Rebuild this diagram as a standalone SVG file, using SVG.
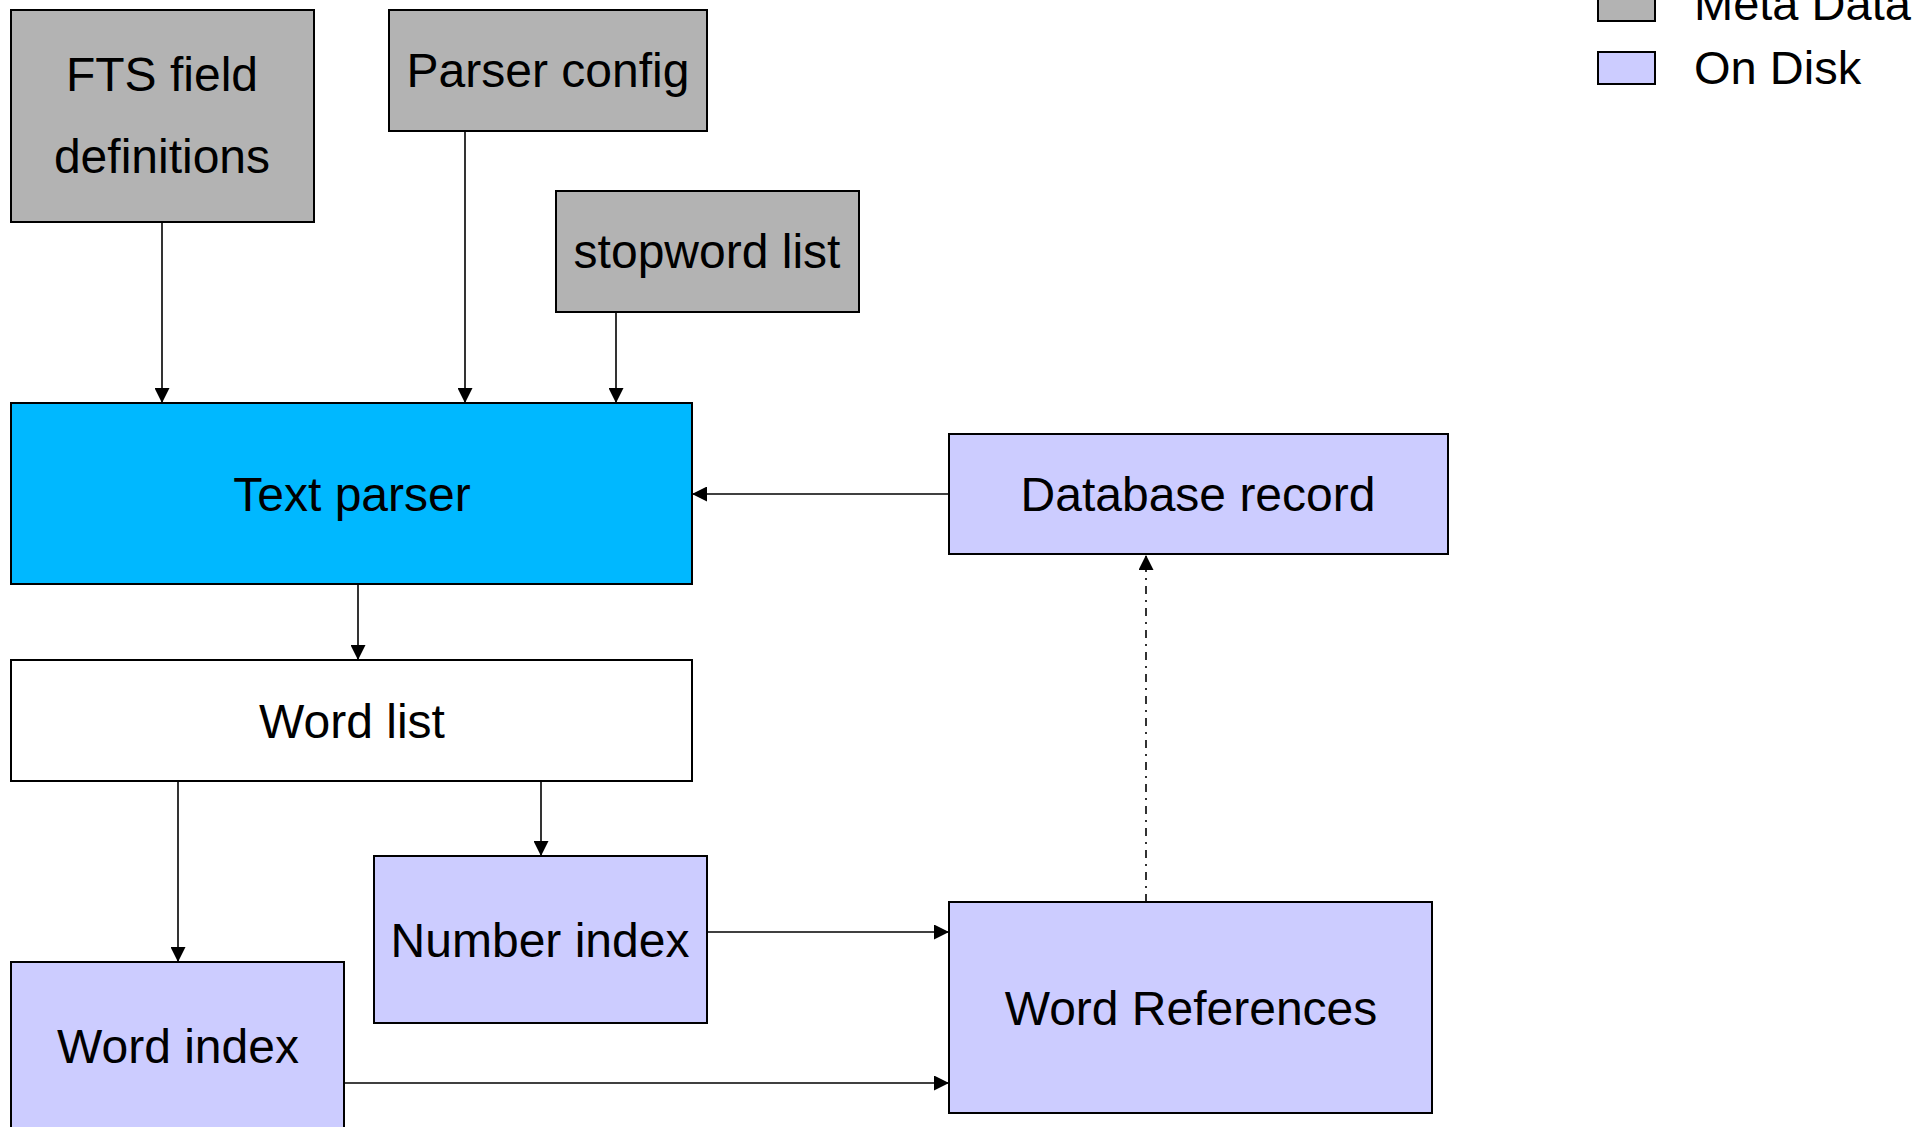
<svg xmlns="http://www.w3.org/2000/svg" width="1932" height="1127" viewBox="0 0 1932 1127">
  <style>
    .box { stroke: #000; stroke-width: 2; }
    .meta { fill: #b3b3b3; }
    .disk { fill: #ccccff; }
    .proc { fill: #00b8ff; }
    .plain { fill: #ffffff; }
    .label { font-family: "Liberation Sans", Arial, sans-serif; font-size: 48px; fill: #000; text-anchor: middle; }
    .legend { font-family: "Liberation Sans", Arial, sans-serif; font-size: 47px; fill: #000; }
    .edge { fill: none; stroke: #000; stroke-width: 1.6; }
    .dashdot { stroke-dasharray: 8 6 2 6; }
  </style>
  <defs>
    <marker id="arrow" markerUnits="userSpaceOnUse" markerWidth="15" markerHeight="15" refX="15" refY="7.5" orient="auto">
      <path d="M0,0 L15,7.5 L0,15 z" fill="#000"/>
    </marker>
  </defs>

  <rect width="1932" height="1127" fill="#ffffff"/>

  <!-- Legend -->
  <g id="legend">
    <rect class="box meta" x="1598" y="-11" width="57" height="32"/>
    <text class="legend" x="1694" y="20">Meta Data</text>
    <rect class="box disk" x="1598" y="52" width="57" height="32"/>
    <text class="legend" x="1694" y="84">On Disk</text>
  </g>

  <!-- Connectors -->
  <g id="connectors">
    <line class="edge" x1="162" y1="222" x2="162" y2="403" marker-end="url(#arrow)"/>
    <line class="edge" x1="465" y1="131" x2="465" y2="403" marker-end="url(#arrow)"/>
    <line class="edge" x1="616" y1="312" x2="616" y2="403" marker-end="url(#arrow)"/>
    <line class="edge" x1="949" y1="494" x2="692" y2="494" marker-end="url(#arrow)"/>
    <line class="edge" x1="358" y1="584" x2="358" y2="660" marker-end="url(#arrow)"/>
    <line class="edge" x1="178" y1="781" x2="178" y2="962" marker-end="url(#arrow)"/>
    <line class="edge" x1="541" y1="781" x2="541" y2="856" marker-end="url(#arrow)"/>
    <line class="edge" x1="707" y1="932" x2="949" y2="932" marker-end="url(#arrow)"/>
    <line class="edge" x1="344" y1="1083" x2="949" y2="1083" marker-end="url(#arrow)"/>
    <line class="edge dashdot" x1="1146" y1="902" x2="1146" y2="555" marker-end="url(#arrow)"/>
  </g>

  <!-- Nodes -->
  <g id="fts-field-definitions">
    <rect class="box meta" x="11" y="10" width="303" height="212"/>
    <text class="label" x="162" y="91">FTS field</text>
    <text class="label" x="162" y="173">definitions</text>
  </g>
  <g id="parser-config">
    <rect class="box meta" x="389" y="10" width="318" height="121"/>
    <text class="label" x="548" y="87">Parser config</text>
  </g>
  <g id="stopword-list">
    <rect class="box meta" x="556" y="191" width="303" height="121"/>
    <text class="label" x="707" y="268">stopword list</text>
  </g>
  <g id="text-parser">
    <rect class="box proc" x="11" y="403" width="681" height="181"/>
    <text class="label" x="352" y="511">Text parser</text>
  </g>
  <g id="database-record">
    <rect class="box disk" x="949" y="434" width="499" height="120"/>
    <text class="label" x="1198" y="511">Database record</text>
  </g>
  <g id="word-list">
    <rect class="box plain" x="11" y="660" width="681" height="121"/>
    <text class="label" x="352" y="738">Word list</text>
  </g>
  <g id="number-index">
    <rect class="box disk" x="374" y="856" width="333" height="167"/>
    <text class="label" x="540" y="957">Number index</text>
  </g>
  <g id="word-index">
    <rect class="box disk" x="11" y="962" width="333" height="168"/>
    <text class="label" x="178" y="1063">Word index</text>
  </g>
  <g id="word-references">
    <rect class="box disk" x="949" y="902" width="483" height="211"/>
    <text class="label" x="1191" y="1025">Word References</text>
  </g>
</svg>
